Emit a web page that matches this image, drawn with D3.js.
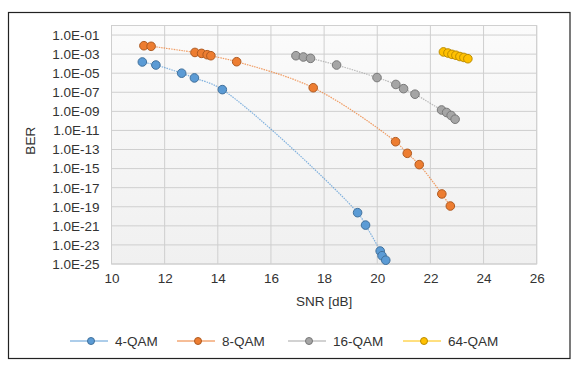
<!DOCTYPE html>
<html>
<head>
<meta charset="utf-8">
<script src="https://cdn.jsdelivr.net/npm/d3@7"></script>
<style>
  body { margin: 0; background: #fff; }
  text { font-family: "Liberation Sans", Arial, sans-serif; }
</style>
</head>
<body>
<div id="chart"></div>
<script>
// SNR [dB] and BER
const snr4 = [11.16, 11.67, 12.64, 13.12, 14.17, 19.26, 19.56, 20.11, 20.18, 20.32];
const ber4 = [1.5e-4, 7.2e-5, 1.0e-5, 3.2e-6, 1.9e-7, 2.4e-20, 1.2e-21, 2.3e-24, 7.4e-25, 2.5e-25];

const snr8 = [11.22, 11.49, 13.14, 13.39, 13.60, 13.74, 14.71, 17.59, 20.69, 21.13, 21.58, 22.43, 22.75];
const ber8 = [7.6e-3, 6.6e-3, 1.5e-3, 1.2e-3, 8.7e-4, 6.8e-4, 1.6e-4, 3.0e-7, 6.6e-13, 4.0e-14, 2.6e-15, 2.2e-18, 1.2e-19];

const snr16 = [16.94, 17.22, 17.49, 18.47, 19.99, 20.70, 20.99, 21.42, 22.42, 22.61, 22.78, 22.93];
const ber16 = [6.8e-4, 5.0e-4, 3.6e-4, 7.2e-5, 3.5e-6, 6.6e-7, 2.4e-7, 6.3e-8, 1.4e-9, 7.6e-10, 3.7e-10, 1.5e-10];

const snr64 = [22.49, 22.66, 22.81, 22.96, 23.11, 23.26, 23.41];
const ber64 = [1.7e-3, 1.3e-3, 9.5e-4, 7.6e-4, 5.6e-4, 4.5e-4, 3.3e-4];

const seriesNames = ["4-QAM", "8-QAM", "16-QAM", "64-QAM"];
const xTicks = [10, 12, 14, 16, 18, 20, 22, 24, 26];
const yTickExps = [-1, -3, -5, -7, -9, -11, -13, -15, -17, -19, -21, -23, -25];

const colors = ["#5b9bd5", "#ed7d31", "#a5a5a5", "#ffc000"];
const strokes = ["#41719c", "#ae5a21", "#787878", "#bc8c00"];

const series = [
  snr4.map((x, i) => ({ x, y: ber4[i] })),
  snr8.map((x, i) => ({ x, y: ber8[i] })),
  snr16.map((x, i) => ({ x, y: ber16[i] })),
  snr64.map((x, i) => ({ x, y: ber64[i] }))
];

const width = 586, height = 366;
const plot = { left: 111.5, right: 536.7, top: 25.5, bottom: 264 };
const textColor = "#333";

const svg = d3.select("#chart").append("svg")
  .attr("width", width)
  .attr("height", height);

// outer frame
svg.append("rect")
  .attr("x", 8.5).attr("y", 12.5)
  .attr("width", 561.5).attr("height", 346)
  .attr("fill", "#fff")
  .attr("stroke", "#222")
  .attr("stroke-width", 1.2);

const x = d3.scaleLinear().domain([10, 26]).range([plot.left, plot.right]);
const y = d3.scaleLog().domain([1e-25, 1]).range([plot.bottom, plot.top]);

// plot background with faint shading
const grad = svg.append("defs").append("linearGradient")
  .attr("id", "bg").attr("x1", 0).attr("y1", 0).attr("x2", 0).attr("y2", 1);
grad.append("stop").attr("offset", "0%").attr("stop-color", "#fbfbfb");
grad.append("stop").attr("offset", "100%").attr("stop-color", "#f0f0f0");

svg.append("rect")
  .attr("x", plot.left).attr("y", plot.top)
  .attr("width", plot.right - plot.left).attr("height", plot.bottom - plot.top)
  .attr("fill", "url(#bg)")
  .attr("stroke", "#d0d0d0");

// gridlines
svg.append("g")
  .selectAll("line")
  .data(xTicks)
  .join("line")
  .attr("x1", d => x(d)).attr("x2", d => x(d))
  .attr("y1", plot.top).attr("y2", plot.bottom)
  .attr("stroke", "#cfcfcf");

svg.append("g")
  .selectAll("line")
  .data(yTickExps)
  .join("line")
  .attr("x1", plot.left).attr("x2", plot.right)
  .attr("y1", d => y(Math.pow(10, d))).attr("y2", d => y(Math.pow(10, d)))
  .attr("stroke", "#cfcfcf");

// axes (labels only)
const fmt = d => {
  const e = Math.round(Math.log10(d));
  return "1.0E" + (e < 0 ? "-" : "+") + String(Math.abs(e)).padStart(2, "0");
};

const xAxis = svg.append("g")
  .attr("transform", `translate(0,${plot.bottom})`)
  .call(d3.axisBottom(x).tickValues(xTicks).tickSize(0).tickPadding(9));
xAxis.select(".domain").remove();
xAxis.selectAll("text").attr("font-size", 13.5).attr("fill", textColor)
  .attr("font-family", "Liberation Sans, Arial, sans-serif");

const yAxis = svg.append("g")
  .attr("transform", `translate(${plot.left},0)`)
  .call(d3.axisLeft(y).tickValues(yTickExps.map(e => Math.pow(10, e))).tickFormat(fmt).tickSize(0).tickPadding(12));
yAxis.select(".domain").remove();
yAxis.selectAll("text").attr("font-size", 13.5).attr("fill", textColor)
  .attr("font-family", "Liberation Sans, Arial, sans-serif");

// axis titles
svg.append("text")
  .attr("x", (plot.left + plot.right) / 2)
  .attr("y", 306)
  .attr("text-anchor", "middle")
  .attr("font-size", 13.5)
  .attr("fill", textColor)
  .text("SNR [dB]");

svg.append("text")
  .attr("transform", `translate(35,${(plot.top + plot.bottom) / 2 - 4}) rotate(-90)`)
  .attr("text-anchor", "middle")
  .attr("font-size", 13.5)
  .attr("fill", textColor)
  .text("BER");

// series lines (smoothed, thin, dotted)
const line = d3.line()
  .x(d => x(d.x))
  .y(d => y(d.y))
  .curve(d3.curveCatmullRom);

svg.append("g")
  .selectAll("path")
  .data(series)
  .join("path")
  .attr("d", line)
  .attr("fill", "none")
  .attr("stroke", (d, i) => colors[i])
  .attr("stroke-width", 1.2)
  .attr("stroke-dasharray", "1.5,1")
  .attr("opacity", 0.75);

// markers
series.forEach((pts, i) => {
  svg.append("g")
    .selectAll("circle")
    .data(pts)
    .join("circle")
    .attr("cx", d => x(d.x))
    .attr("cy", d => y(d.y))
    .attr("r", 4.3)
    .attr("fill", colors[i])
    .attr("stroke", strokes[i])
    .attr("stroke-width", 1);
});

// legend
const legendX = [70, 177, 288, 403];
const legend = svg.append("g")
  .selectAll("g")
  .data(seriesNames)
  .join("g")
  .attr("transform", (d, i) => `translate(${legendX[i]},341)`);

legend.append("line")
  .attr("x1", 0).attr("x2", 38)
  .attr("stroke", (d, i) => colors[i])
  .attr("stroke-width", 1);

legend.append("circle")
  .attr("cx", 21).attr("r", 3.5)
  .attr("fill", (d, i) => colors[i])
  .attr("stroke", (d, i) => strokes[i]);

legend.append("text")
  .attr("x", 45)
  .attr("y", 5)
  .attr("font-size", 13.5)
  .attr("fill", textColor)
  .text(d => d);
</script>
</body>
</html>
